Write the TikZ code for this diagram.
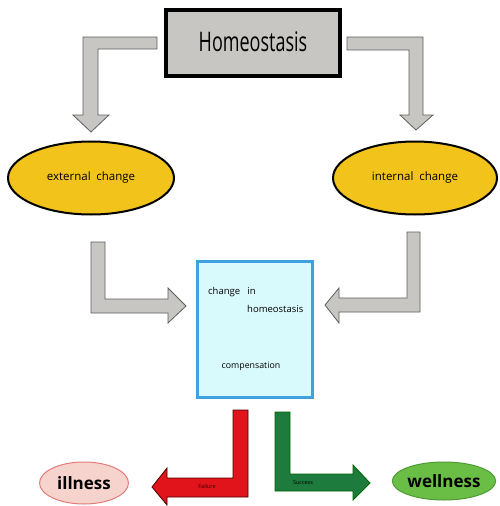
\documentclass[tikz,border=0pt]{standalone}
\usepackage{fontspec}
\setmainfont{Open Sans}
\usetikzlibrary{shapes.geometric}
\definecolor{boxgray}{HTML}{C8C6C3}
\definecolor{arrowedge}{HTML}{5E5E5E}
\definecolor{yel}{HTML}{F2C31B}
\definecolor{cyanfill}{HTML}{D8FAFD}
\definecolor{blueedge}{HTML}{3FA2E0}
\definecolor{redarrow}{HTML}{E0141A}
\definecolor{greenarrow}{HTML}{1E7B3E}
\definecolor{pinkfill}{HTML}{F7D3CD}
\definecolor{pinkedge}{HTML}{E07B78}
\definecolor{wellfill}{HTML}{6BBE45}
\definecolor{welledge}{HTML}{4E9A33}
\tikzset{
  homeobox/.style={draw=black, line width=4pt, fill=boxgray, minimum width=174pt, minimum height=66pt, inner sep=0pt},
  changeell/.style={ellipse, draw=black, line width=2pt, fill=yel, inner sep=0pt},
  centerbox/.style={draw=blueedge, line width=3pt, fill=cyanfill, minimum width=115pt, minimum height=136pt, inner sep=0pt},
  grayarrow/.style={fill=boxgray, draw=arrowedge, line width=0.8pt, line join=miter},
  redblock/.style={fill=redarrow, draw=black!70!red, line width=0.8pt},
  greenblock/.style={fill=greenarrow, draw=black!60!green, line width=0.8pt},
  lbl/.style={inner sep=0pt, font=\fontsize{9.5}{12}\selectfont},
}
\begin{document}
\begin{tikzpicture}[x=1pt, y=-1pt]
\useasboundingbox (0,0) rectangle (499,506);
% block arrows
\draw[grayarrow] (157,37) -- (83,37) -- (83,115) -- (73,115) -- (91,132) -- (109,115) -- (98,115) -- (98,49) -- (157,49) -- cycle;
\draw[grayarrow] (347,37) -- (423,37) -- (423,115) -- (433,115) -- (416,130) -- (400,115) -- (409,115) -- (409,50) -- (347,50) -- cycle;
\draw[grayarrow] (91,242) -- (105,242) -- (105,299) -- (168,299) -- (168,288) -- (186,306) -- (168,323) -- (168,313) -- (91,313) -- cycle;
\draw[grayarrow] (420,232) -- (407,232) -- (407,298) -- (339,298) -- (339,288) -- (325,305) -- (339,323) -- (339,312) -- (420,312) -- cycle;
\draw[redblock] (233,410) -- (248,410) -- (248,497) -- (167,497) -- (167,505) -- (152,487) -- (167,468) -- (167,478) -- (233,478) -- cycle;
\draw[greenblock] (275,412) -- (290,412) -- (290,474) -- (353,474) -- (353,465) -- (370,483) -- (353,500) -- (353,491) -- (275,491) -- cycle;
% nodes
\node[homeobox] (homeo) at (253,43) {\fontsize{18}{22}\selectfont\raisebox{2pt}{\scalebox{1}[1.5]{Homeostasis}}};
\node[changeell, minimum width=166pt, minimum height=73pt] (ext) at (91,178) {\fontsize{11.5}{14}\selectfont external\enspace change};
\node[changeell, minimum width=164pt, minimum height=73pt] (int) at (415,178) {\fontsize{11.5}{14}\selectfont internal\enspace change};
\node[centerbox] (mid) at (255,329.5) {};
\node[lbl, anchor=west] (chg) at (208,292) {change\enspace\ in};
\node[lbl, anchor=west] (hom) at (247,309) {homeostasis};
\node[lbl, font=\fontsize{8.8}{11}\selectfont] (comp) at (251,366) {compensation};
\node[ellipse, draw=pinkedge, line width=1pt, fill=pinkfill, minimum width=89pt, minimum height=42pt, inner sep=0pt] (ill) at (84,483) {\fontsize{17}{20}\selectfont\bfseries illness};
\node[ellipse, draw=welledge, line width=1pt, fill=wellfill, minimum width=99pt, minimum height=38pt, inner sep=0pt] (well) at (444,481) {\fontsize{17}{20}\selectfont\bfseries wellness};
\node[inner sep=0pt, font=\fontsize{5.5}{6}\selectfont, text=black!80!red] (fail) at (207,486) {Failure};
\node[inner sep=0pt, font=\fontsize{5.5}{6}\selectfont, text=black] (succ) at (303,483) {Success};
\end{tikzpicture}
\end{document}
